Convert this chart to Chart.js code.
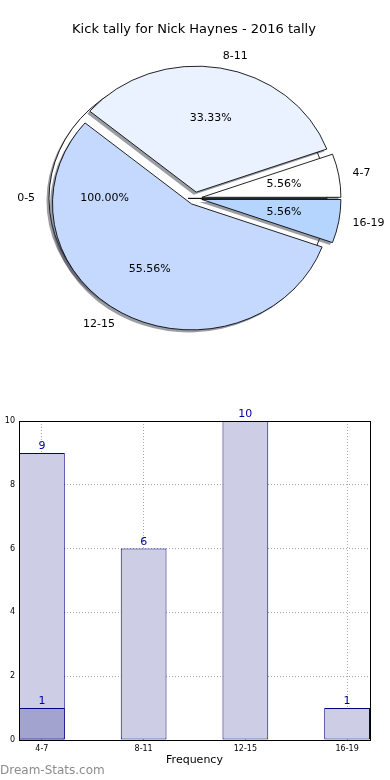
<!DOCTYPE html>
<html>
<head>
<meta charset="utf-8">
<script src="https://cdn.jsdelivr.net/npm/chart.js@4.4.1/dist/chart.umd.min.js"></script>
<style>
  body { margin: 0; background: #fff; width: 390px; height: 780px; overflow: hidden; position: relative; }
  canvas { position: absolute; left: 0; }
  #pieBack, #pieFront { top: 0; }
  #bars { top: 380px; }
  #mark { position: absolute; left: 0; top: 762px; font: 12px "DejaVu Sans"; line-height: 16px; color: #8c8c8c; }
</style>
</head>
<body>
<canvas id="pieBack" width="390" height="380"></canvas>
<canvas id="pieFront" width="390" height="380"></canvas>
<canvas id="bars" width="390" height="400"></canvas>
<div id="mark">Dream-Stats.com</div>
<script>
const title = 'Kick tally for Nick Haynes - 2016 tally';

// background pie (single full slice)
const allLabel = ['0-5'];
const allCount = [1];

// front pie
const groups = ['4-7', '8-11', '12-15', '16-19'];
const pieCounts = [1, 6, 10, 1];
const sliceColors = ['#ffffff', '#eaf1ff', '#c5d9ff', '#b5d5ff'];

// bar chart
const barCounts = [9, 6, 10, 1];
const overlayCounts = [1];
const yTicks = [0, 2, 4, 6, 8, 10];

const R = 139, K = 126 / 139, EXPLODE = 7;
const CX = 195, CY = 198.4;
const FONT = '"DejaVu Sans"';

function drawPieLabels(chart, ctx) {
  const ds = chart.data.datasets[0];
  const total = ds.data.reduce((a, b) => a + b, 0);
  chart.getDatasetMeta(0).data.forEach((arc, i) => {
    const mid = (arc.startAngle + arc.endAngle) / 2;
    const c = Math.cos(mid), s = Math.sin(mid);
    const lr = EXPLODE + 1.1 * R, pr = EXPLODE + 0.6 * R;
    ctx.textAlign = c > 0 ? 'left' : 'right';
    ctx.fillText(chart.data.labels[i], CX + c * lr, CY + s * lr * K);
    ctx.textAlign = 'center';
    ctx.fillText((ds.data[i] / total * 100).toFixed(2) + '%', CX + c * pr, CY + s * pr * K);
  });
}

let backPie = null;

const piePlugin = {
  id: 'piePlugin',
  beforeDatasetsDraw(chart) {
    const ctx = chart.ctx;
    const arcs = chart.getDatasetMeta(0).data;
    arcs.forEach(arc => {
      const mid = (arc.startAngle + arc.endAngle) / 2;
      arc.x = CX + Math.cos(mid) * EXPLODE;
      arc.y = CY + Math.sin(mid) * EXPLODE;
    });
    // squash to the ellipse matplotlib draws
    ctx.save();
    ctx.translate(CX, CY);
    ctx.scale(1, K);
    ctx.translate(-CX, -CY);
    // shadows first, behind every wedge
    ctx.save();
    ctx.translate(-2.5, 2.5 / K);
    arcs.forEach(arc => {
      const orig = arc.options;
      arc.options = Object.assign({}, orig, { backgroundColor: 'rgba(55,60,75,0.5)', borderWidth: 0 });
      arc.draw(ctx);
      arc.options = orig;
    });
    ctx.restore();
  },
  afterDatasetsDraw(chart) {
    chart.ctx.restore();
  },
  afterDraw(chart) {
    // texts sit above both pies, so the front chart writes them all
    if (chart.canvas.id !== 'pieFront') return;
    const ctx = chart.ctx;
    ctx.save();
    ctx.font = '11px ' + FONT;
    ctx.fillStyle = '#000';
    ctx.textBaseline = 'middle';
    if (backPie) drawPieLabels(backPie, ctx);
    drawPieLabels(chart, ctx);
    ctx.font = '13px ' + FONT;
    ctx.textAlign = 'center';
    ctx.fillText(title, 194, 30);
    ctx.restore();
  }
};

function makePie(id, labels, data, colors) {
  return new Chart(document.getElementById(id), {
    type: 'pie',
    data: {
      labels: labels,
      datasets: [{ data: data, backgroundColor: colors, borderColor: '#000', borderWidth: 0.9, clip: false }]
    },
    options: {
      responsive: false,
      animation: false,
      events: [],
      rotation: 90,
      radius: R,
      plugins: { legend: { display: false }, tooltip: { enabled: false } }
    },
    plugins: [piePlugin]
  });
}

backPie = makePie('pieBack', allLabel, allCount, ['#ffffff']);
// chart.js goes clockwise, matplotlib counter-clockwise -> reverse
makePie('pieFront', groups.slice().reverse(), pieCounts.slice().reverse(), sliceColors.slice().reverse());

const barExtras = {
  id: 'barExtras',
  afterDraw(chart) {
    const ctx = chart.ctx;
    const a = chart.chartArea;
    ctx.save();
    ctx.strokeStyle = '#000';
    ctx.lineWidth = 1;
    ctx.strokeRect(Math.round(a.left) + 0.5, Math.round(a.top) + 0.5, Math.round(a.right - a.left), Math.round(a.bottom - a.top));
    ctx.font = '11px ' + FONT;
    ctx.fillStyle = '#000099';
    ctx.textAlign = 'center';
    ctx.textBaseline = 'bottom';
    chart.data.datasets.forEach((ds, di) => {
      chart.getDatasetMeta(di).data.forEach((bar, i) => {
        ctx.fillText(String(ds.data[i].y), bar.x, bar.y - 1);
      });
    });
    ctx.fillStyle = '#000';
    ctx.font = '10px ' + FONT;
    ctx.translate(3, 575);
    ctx.rotate(-Math.PI / 2);
    ctx.textBaseline = 'alphabetic';
    ctx.fillText('Games Played', 0, 0);
    ctx.restore();
  }
};

const gridOpts = { color: '#a8a8a8', drawTicks: false, lineWidth: 1, offset: false };
const tickFont = { family: 'DejaVu Sans', size: 8 };

new Chart(document.getElementById('bars'), {
  type: 'bar',
  data: {
    datasets: [
      {
        data: overlayCounts.map((v, i) => ({ x: i, y: v })),
        backgroundColor: '#a3a3cf', borderColor: '#000080', borderWidth: 1, order: 0
      },
      {
        data: barCounts.map((v, i) => ({ x: i, y: v })),
        backgroundColor: '#cdcde5', borderColor: '#000080', borderWidth: 1, order: 1
      }
    ]
  },
  options: {
    responsive: false,
    animation: false,
    events: [],
    layout: { padding: { top: 41, right: 20, left: 0, bottom: 0 } },
    datasets: { bar: { grouped: false, categoryPercentage: 1, barPercentage: 0.45, borderSkipped: false } },
    scales: {
      x: {
        type: 'linear',
        offset: false,
        min: -0.225,
        max: 3.225,
        afterBuildTicks: axis => { axis.ticks = groups.map((g, i) => ({ value: i })); },
        afterFit: axis => { axis.height = 40; },
        ticks: { callback: v => groups[v], font: tickFont, color: '#000', padding: 4, maxRotation: 0, autoSkip: false },
        grid: gridOpts,
        border: { display: false, dash: [1, 2] },
        title: { display: true, text: 'Frequency', font: { family: 'DejaVu Sans', size: 11 }, color: '#000', padding: { top: 0, bottom: 13 } }
      },
      y: {
        min: 0,
        max: 10,
        afterBuildTicks: axis => { axis.ticks = yTicks.map(v => ({ value: v })); },
        afterFit: axis => { axis.width = 19; },
        ticks: { font: tickFont, color: '#000', padding: 4 },
        grid: gridOpts,
        border: { display: false, dash: [1, 2] }
      }
    },
    plugins: { legend: { display: false }, tooltip: { enabled: false } }
  },
  plugins: [barExtras]
});
</script>
</body>
</html>
